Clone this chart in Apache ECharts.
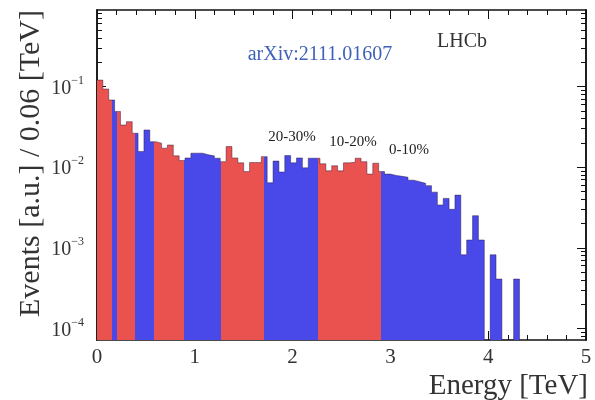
<!DOCTYPE html>
<html>

<head>
    <meta charset="utf-8">
    <script src="https://cdn.jsdelivr.net/npm/echarts@6/dist/echarts.min.js"></script>
</head>

<body>
    <div id="main"></div>
</body>
<style>
    body {
        margin: 0;
        background: #fff;
    }

    #main {
        width: 595px;
        height: 400px;
    }
</style>
<script>
    // histogram, bins of 0.06 TeV starting at 0
    const binWidth = 0.06
    const events = [
        0.120, 0.093, 0.068, 0.049, 0.0333, 0.0366, 0.0263, 0.0156, 0.0289, 0.0207,
        0.0198, 0.0172, 0.0188, 0.0138, 0.0121, 0.0130, 0.0149, 0.0149, 0.0142, 0.0138,
        0.0129, 0.0117, 0.0180, 0.0130, 0.0113, 0.0088, 0.0114, 0.0114, 0.0135, 0.0064,
        0.0119, 0.0087, 0.0139, 0.0113, 0.0130, 0.0098, 0.0129, 0.0129, 0.0110, 0.0090,
        0.0104, 0.0090, 0.0113, 0.0115, 0.0129, 0.0117, 0.0082, 0.0112, 0.0088, 0.0082,
        0.0079, 0.0077, 0.0075, 0.0069, 0.0066, 0.0063, 0.0059, 0.0049, 0.0034, 0.0041,
        0.0030, 0.0045, 0.00082, 0.00125, 0.0025, 0.00125, 0, 0.00082, 0.00041, 0,
        0, 0.00041
    ]
    // energy bands (10% quantiles), low to high energy
    const bandEdges = [0, 0.15, 0.20, 0.39, 0.58, 0.89, 1.27, 1.71, 2.26, 2.90, 5]
    const bandColors = ['#ea524f', '#4949ea']
    const bandLabels = ['20-30%', '10-20%', '0-10%']

    const yTicks = [1e-4, 1e-3, 1e-2, 1e-1]
    const yMin = 7.2e-5
    const yMax = 0.887

    // minor log ticks 2..9 x 10^n
    let yMinorTicks = []
    for (let d = -5; d <= 0; d++) {
        for (let k = 2; k <= 9; k++) {
            let v = k * Math.pow(10, d)
            if (v > yMin && v < yMax) yMinorTicks.push(v)
        }
    }

    let histData = events.map((v, i) => [+(i * binWidth).toFixed(2), v > 0 ? v : yMin])
    histData.push([+(events.length * binWidth).toFixed(2), yMin])

    const font = 'Liberation Serif'
    const frame = { show: true, lineStyle: { color: '#111', width: 1.5 } }

    function logAxis(position, ticks, len, labels) {
        return {
            type: 'log',
            position,
            min: yMin,
            max: yMax,
            axisLine: frame,
            axisTick: { show: true, inside: true, length: len, customValues: ticks, lineStyle: { color: '#111', width: 1 } },
            axisLabel: labels ? {
                customValues: ticks,
                margin: 13,
                formatter: (val) => '{b|10}{e|−' + Math.round(-Math.log10(val)) + '}',
                rich: {
                    b: { fontFamily: font, fontSize: 20, color: '#333', verticalAlign: 'bottom', lineHeight: 24 },
                    e: { fontFamily: font, fontSize: 12, color: '#333', verticalAlign: 'top', lineHeight: 24 }
                }
            } : { show: false },
            splitLine: { show: false },
            minorTick: { show: false }
        }
    }

    function xAxis(position, labels) {
        return {
            type: 'value',
            position,
            min: 0,
            max: 5,
            interval: 1,
            axisLine: frame,
            axisTick: { show: true, inside: true, length: 9, lineStyle: { color: '#111', width: 1 } },
            minorTick: { show: true, splitNumber: 5, length: 5, lineStyle: { color: '#111', width: 1 } },
            axisLabel: labels ? { fontFamily: font, fontSize: 21, color: '#333', margin: 7 } : { show: false },
            splitLine: { show: false }
        }
    }

    const chart = echarts.init(document.getElementById('main'))
    chart.setOption({
        animation: false,
        backgroundColor: '#fff',
        grid: { left: 97, right: 9, top: 10, bottom: 60 },
        xAxis: [xAxis('bottom', true), xAxis('top', false)],
        yAxis: [
            logAxis('left', yTicks, 9, true),
            logAxis('left', yMinorTicks, 5, false),
            logAxis('right', yTicks, 9, false),
            logAxis('right', yMinorTicks, 5, false)
        ],
        visualMap: {
            show: false,
            type: 'piecewise',
            seriesIndex: 0,
            dimension: 0,
            pieces: bandEdges.slice(0, -1).map((lo, i) => ({ gte: lo, lt: bandEdges[i + 1], color: bandColors[i % 2] }))
        },
        series: [
            {
                type: 'line',
                step: 'end',
                data: histData,
                symbol: 'none',
                silent: true,
                lineStyle: { width: 0 },
                areaStyle: { opacity: 1, origin: 'start' }
            },
            {
                type: 'line',
                step: 'end',
                data: histData,
                symbol: 'none',
                silent: true,
                lineStyle: { width: 1, color: 'rgba(40,20,60,0.45)' }
            }
        ],
        graphic: [
            {
                type: 'text', x: 31, y: 10, rotation: Math.PI / 2,
                style: { text: 'Events [a.u.] / 0.06 [TeV]', font: '30px "Liberation Serif"', fill: '#333', align: 'right', verticalAlign: 'middle' }
            },
            {
                type: 'text', x: 588, y: 386,
                style: { text: 'Energy [TeV]', font: '29px "Liberation Serif"', fill: '#333', align: 'right', verticalAlign: 'middle' }
            },
            {
                type: 'text', x: 320, y: 55,
                style: { text: 'arXiv:2111.01607', font: '20px "Liberation Serif"', fill: '#3f62b8', align: 'center', verticalAlign: 'middle' }
            },
            {
                type: 'text', x: 462, y: 42,
                style: { text: 'LHCb', font: '20px "Liberation Serif"', fill: '#333', align: 'center', verticalAlign: 'middle' }
            },
            {
                type: 'text', x: 292, y: 137,
                style: { text: bandLabels[0], font: '15px "Liberation Serif"', fill: '#222', align: 'center', verticalAlign: 'middle' }
            },
            {
                type: 'text', x: 353, y: 142,
                style: { text: bandLabels[1], font: '15px "Liberation Serif"', fill: '#222', align: 'center', verticalAlign: 'middle' }
            },
            {
                type: 'text', x: 409, y: 150,
                style: { text: bandLabels[2], font: '15px "Liberation Serif"', fill: '#222', align: 'center', verticalAlign: 'middle' }
            }
        ]
    })
</script>

</html>
